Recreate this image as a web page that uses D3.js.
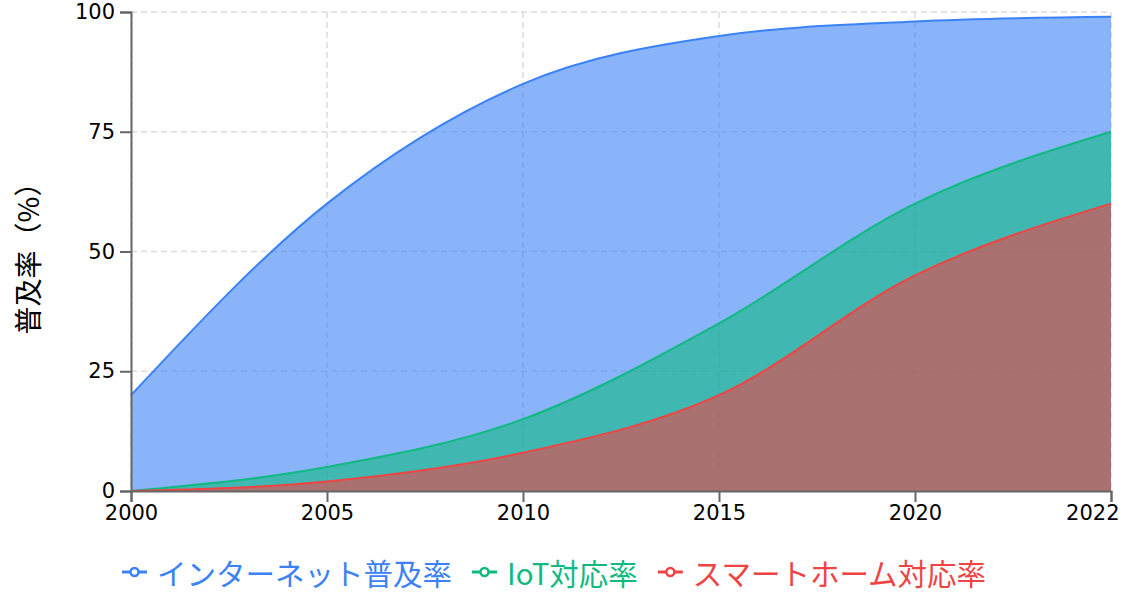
<!DOCTYPE html>
<html>
<head>
<meta charset="utf-8">
<script src="https://cdn.jsdelivr.net/npm/d3@7/dist/d3.min.js"></script>
<style>
    body { margin: 0; background: #fff; }
    svg { display: block; }
</style>
</head>
<body>
<svg class="chart"></svg>
<script>
// values
var years = [2000, 2005, 2010, 2015, 2020, 2022];
var internetRate = [20, 60, 85, 95, 98, 99];
var iotRate = [0, 5, 15, 35, 60, 75];
var smartHomeRate = [0, 2, 8, 20, 45, 60];
var yTicks = [0, 25, 50, 75, 100];
var seriesNames = ['インターネット普及率', 'IoT対応率', 'スマートホーム対応率'];
var seriesColors = ['#3b82f6', '#10b981', '#ef4444'];
var yLabel = '普及率（%）';

var width = 1130,
    height = 596;
var margin = {top: 12, right: 19, bottom: 105, left: 131};
var innerW = width - margin.left - margin.right,
    innerH = height - margin.top - margin.bottom;

var numFont = '"DejaVu Sans", sans-serif';
var jpFont = '"Noto Sans CJK JP", sans-serif';

var svg = d3.select('.chart')
    .attr('width', width)
    .attr('height', height);

var g = svg.append('g')
    .attr('transform', 'translate(' + margin.left + ',' + margin.top + ')');

// years are evenly spaced like categories
var x = d3.scalePoint().domain(years).range([0, innerW]);
var y = d3.scaleLinear().domain([0, 100]).range([innerH, 0]);

//grid lines
g.append('g').selectAll('line').data(yTicks).enter().append('line')
    .attr('x1', 0)
    .attr('x2', innerW)
    .attr('y1', function(d) { return y(d); })
    .attr('y2', function(d) { return y(d); })
    .attr('stroke', '#dcdcdc')
    .attr('stroke-width', 1.5)
    .attr('stroke-dasharray', '6,4');
g.append('g').selectAll('line').data(years).enter().append('line')
    .attr('x1', function(d) { return x(d); })
    .attr('x2', function(d) { return x(d); })
    .attr('y1', 0)
    .attr('y2', innerH)
    .attr('stroke', '#dcdcdc')
    .attr('stroke-width', 1.5)
    .attr('stroke-dasharray', '6,4');

// build rows per series
var allSeries = [internetRate, iotRate, smartHomeRate].map(function(vals, k) {
    return {
        name: seriesNames[k],
        color: seriesColors[k],
        values: years.map(function(yr, i) { return {year: yr, value: vals[i]}; })
    };
});

var area = d3.area()
    .curve(d3.curveMonotoneX)
    .x(function(d) { return x(d.year); })
    .y0(innerH)
    .y1(function(d) { return y(d.value); });

var line = d3.line()
    .curve(d3.curveMonotoneX)
    .x(function(d) { return x(d.year); })
    .y(function(d) { return y(d.value); });

allSeries.forEach(function(s) {
    g.append('path')
        .datum(s.values)
        .attr('d', area)
        .attr('fill', s.color)
        .attr('fill-opacity', 0.6);
    g.append('path')
        .datum(s.values)
        .attr('d', line)
        .attr('fill', 'none')
        .attr('stroke', s.color)
        .attr('stroke-width', 2);
});

//axes
var yAxis = g.append('g')
    .call(d3.axisLeft(y).tickValues(yTicks).tickSize(11).tickPadding(5));
var xAxis = g.append('g')
    .attr('transform', 'translate(0,' + innerH + ')')
    .call(d3.axisBottom(x).tickSize(11).tickPadding(3).tickFormat(d3.format('d')));

[yAxis, xAxis].forEach(function(ax) {
    ax.select('.domain').attr('stroke', '#666').attr('stroke-width', 2);
    ax.selectAll('.tick line').attr('stroke', '#666').attr('stroke-width', 2);
    ax.selectAll('.tick text')
        .attr('fill', '#000')
        .style('font-family', numFont)
        .style('font-size', '21px');
});

// keep last year label inside the picture
xAxis.selectAll('.tick text')
    .filter(function(d) { return d === years[years.length - 1]; })
    .attr('text-anchor', 'end')
    .attr('x', 8);

// y axis title
svg.append('text')
    .attr('transform', 'translate(27,' + (margin.top + innerH / 2) + ') rotate(-90)')
    .attr('text-anchor', 'middle')
    .attr('dominant-baseline', 'central')
    .style('font-family', jpFont)
    .style('font-size', '28px')
    .attr('fill', '#000')
    .text(yLabel);

//legend
var legend = svg.append('g').attr('transform', 'translate(122,572)');
var legX = 0;
allSeries.forEach(function(s) {
    var item = legend.append('g').attr('transform', 'translate(' + legX + ',0)');
    item.append('line')
        .attr('x1', 0).attr('x2', 25)
        .attr('y1', 0).attr('y2', 0)
        .attr('stroke', s.color)
        .attr('stroke-width', 3);
    item.append('circle')
        .attr('cx', 12.5).attr('cy', 0).attr('r', 4)
        .attr('fill', '#fff')
        .attr('stroke', s.color)
        .attr('stroke-width', 2.5);
    var t = item.append('text')
        .attr('x', 35)
        .attr('y', 0)
        .attr('dominant-baseline', 'central')
        .style('font-family', jpFont)
        .style('font-size', '29.5px')
        .attr('fill', s.color)
        .text(s.name);
    legX = legX + 35 + t.node().getComputedTextLength() + 20;
});
</script>
</body>
</html>
